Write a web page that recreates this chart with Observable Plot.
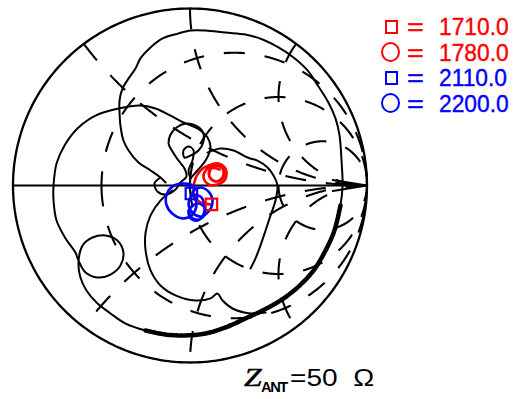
<!DOCTYPE html>
<html><head><meta charset="utf-8">
<script src="https://cdn.jsdelivr.net/npm/d3@7"></script>
<script src="https://cdn.jsdelivr.net/npm/@observablehq/plot@0.6"></script>
<style>
body{margin:0;background:#fff;}
#wrap{position:relative;width:516px;height:399px;overflow:hidden;background:#fff;}
#wrap svg{position:absolute;left:0;top:0;}
.row{position:absolute;left:0;width:516px;height:25px;font-family:"Liberation Sans",Arial,sans-serif;font-size:24px;line-height:24px;white-space:nowrap;-webkit-text-stroke:0.4px currentColor;}
.row .eq{position:absolute;left:407px;top:0;display:inline-block;transform:scaleX(1.2);transform-origin:left;}
.row .num{position:absolute;left:439px;top:0;display:inline-block;transform:scaleX(0.95);transform-origin:left;}
.row .sq{position:absolute;left:385px;top:5px;width:9px;height:10px;border:2px solid;}
.row .ci{position:absolute;left:381px;top:1px;width:15px;height:16px;border:2px solid;border-radius:50%;}
#cap{position:absolute;left:244px;top:365px;font-family:"Liberation Sans",Arial,sans-serif;font-size:23px;line-height:25px;white-space:nowrap;transform:scaleX(1.22);transform-origin:left top;}
#cap i{font-family:"Liberation Serif","Times New Roman",serif;font-size:26px;-webkit-text-stroke:0.5px #000;}
#cap sub{font-size:15px;font-weight:bold;vertical-align:-6px;letter-spacing:-1.5px;display:inline-block;transform:scaleX(0.8);transform-origin:left;margin-right:-3px;}
</style></head><body><div id="wrap"></div>
<script>
// Smith chart grid values
const rCircles = [1/3, 1, 3];
const xArcs = [0.5, 1, 2, -0.5, -1, -2];

// Black impedance trajectory (reflection coefficient u = Re Γ, v = Im Γ)
const blackOuter = [[-0.138,0.017],[-0.167,0.045],[-0.223,0.085],[-0.291,0.130],[-0.347,0.198],[-0.376,0.254],[-0.393,0.339],[-0.398,0.412],[-0.398,0.480],[-0.381,0.548],[-0.347,0.605],[-0.308,0.661],[-0.280,0.718],[-0.223,0.780],[-0.155,0.831],[-0.065,0.859],[0.003,0.876],[0.088,0.876],[0.201,0.864],[0.314,0.853],[0.410,0.825],[0.500,0.780],[0.585,0.723],[0.664,0.650],[0.726,0.559],[0.782,0.469],[0.822,0.379],[0.845,0.282],[0.856,0.141],[0.862,0],[0.850,-0.113],[0.816,-0.254],[0.766,-0.367],[0.698,-0.480],[0.613,-0.571],[0.511,-0.650],[0.410,-0.706],[0.314,-0.751],[0.201,-0.802],[0.088,-0.836],[-0.025,-0.847],[-0.138,-0.842],[-0.251,-0.819],[-0.364,-0.780],[-0.449,-0.723],[-0.528,-0.661],[-0.585,-0.593],[-0.619,-0.520],[-0.630,-0.435],[-0.607,-0.339],[-0.551,-0.294],[-0.477,-0.282],[-0.410,-0.311],[-0.376,-0.379],[-0.393,-0.452],[-0.449,-0.503],[-0.523,-0.520],[-0.590,-0.492],[-0.630,-0.424],[-0.647,-0.379],[-0.703,-0.299],[-0.754,-0.198],[-0.771,-0.085],[-0.771,0],[-0.754,0.124],[-0.709,0.226],[-0.636,0.322],[-0.534,0.395],[-0.404,0.435],[-0.280,0.452],[-0.195,0.435],[-0.110,0.395],[-0.037,0.356],[0.042,0.322],[0.099,0.271],[0.116,0.215],[0.088,0.141],[0.042,0.085],[0.003,0.040]];
const blackInner = [[-0.099,-0.028],[-0.167,-0.085],[-0.223,-0.169],[-0.251,-0.266],[-0.251,-0.367],[-0.223,-0.480],[-0.167,-0.565],[-0.082,-0.621],[0.031,-0.650],[0.116,-0.638],[0.155,-0.610],[0.184,-0.650],[0.240,-0.695],[0.342,-0.723],[0.427,-0.718]];
const blackWavy = [[0.099,0.186],[0.172,0.209],[0.246,0.198],[0.325,0.158],[0.381,0.141],[0.438,0.102],[0.472,0.056],[0.494,0],[0.483,-0.085],[0.455,-0.169],[0.427,-0.254],[0.398,-0.339],[0.370,-0.412],[0.342,-0.469]];
const blackLoops = [[-0.167,0.045],[-0.201,0.011],[-0.184,-0.034],[-0.133,-0.051],[-0.082,-0.023],[-0.054,0.017],[-0.020,0.051],[-0.031,0.096],[-0.065,0.141],[-0.099,0.192],[-0.121,0.237],[-0.110,0.288],[-0.076,0.328],[-0.025,0.350],[0.031,0.339],[0.071,0.305],[0.076,0.249],[0.048,0.198],[0.003,0.169],[-0.031,0.158],[-0.037,0.198],[-0.008,0.220],[0.020,0.198],[0.014,0.141],[-0.008,0.085],[0.003,0.040]];

// Red trace (1710–1780) and blue trace (2110–2200)
const redTrace = [[0.121,-0.107],[0.059,-0.096],[0.025,-0.062],[0.020,-0.017],[0.031,0.040],[0.059,0.085],[0.105,0.113],[0.161,0.124],[0.203,0.090],[0.198,0.034],[0.155,0.006],[0.105,0.006],[0.076,0.045],[0.093,0.090],[0.138,0.113],[0.184,0.096],[0.184,0.045],[0.144,0.023],[0.110,0.051],[0.121,0.096],[0.167,0.090]];
const blueTrace = [[0.020,0],[-0.025,0.011],[-0.090,0],[-0.130,-0.045],[-0.133,-0.110],[-0.099,-0.160],[-0.042,-0.186],[0.014,-0.164],[0.037,-0.102],[0.014,-0.040],[0.059,-0.011],[0.110,-0.040],[0.127,-0.096],[0.105,-0.147],[0.059,-0.175],[0.014,-0.153],[-0.008,-0.102],[0.014,-0.056],[0.059,-0.062],[0.082,-0.113],[0.076,-0.164],[0.042,-0.198],[0.003,-0.186],[-0.008,-0.141],[0.020,-0.113]];

// Markers
const markerU = [0.121, 0.150, 0.008, 0.042];
const markerV = [-0.107, 0.068, -0.045, -0.147];
const markerSymbol = ["square", "circle", "square", "circle"];
const markerColor = ["#ff0000", "#ff0000", "#0000ff", "#0000ff"];

// Legend
const legendLabels = ["1710.0", "1780.0", "2110.0", "2200.0"];

// ---- grid geometry ----
const N = 500;
const rows = [];
rCircles.forEach((r, k) => {
  const c = r / (1 + r), R = 1 / (1 + r);
  for (let i = 0; i <= N; i++) {
    const t = Math.PI + 2 * Math.PI * i / N;
    rows.push({id: "r" + k, u: c + R * Math.cos(t), v: R * Math.sin(t)});
  }
});
xArcs.forEach((x, k) => {
  for (let i = 0; i <= N; i++) {
    let s = (Math.PI / 2 - 1e-3) * i / N;
    if (x < 0) s = (Math.PI / 2 - 1e-3) - s;
    const r = Math.tan(s);
    const den = (r + 1) ** 2 + x * x;
    rows.push({id: "x" + k, u: (r * r + x * x - 1) / den, v: 2 * x / den});
  }
});
const boundary = d3.range(0, 361, 1).map(a => ({u: Math.cos(a * Math.PI / 180), v: Math.sin(a * Math.PI / 180)}));
const axisRow = [{x1: -1, y1: 0, x2: 1, y2: 0}];

const toRows = a => a.map(([u, v]) => ({u, v}));
const markers = markerU.map((u, i) => ({u, v: markerV[i], s: markerSymbol[i], c: markerColor[i]}));

const chart = Plot.plot({
  width: 516, height: 399, margin: 0,
  x: {domain: [-1, 1], range: [12.5, 366.5], axis: null},
  y: {domain: [-1, 1], range: [362, 8], axis: null},
  style: {background: "transparent"},
  marks: [
    Plot.line(rows, {x: "u", y: "v", z: "id", stroke: "#000", strokeWidth: 2.1, strokeDasharray: "21,20", strokeLinecap: "butt"}),
    Plot.line(boundary, {x: "u", y: "v", stroke: "#000", strokeWidth: 2.3}),
    Plot.arrow(axisRow, {x1: "x1", y1: "y1", x2: "x2", y2: "y2", stroke: "#000", strokeWidth: 2, headAngle: 18, headLength: 26}),
    Plot.line(toRows(blackOuter), {x: "u", y: "v", stroke: "#000", strokeWidth: 2, curve: "catmull-rom"}),
    Plot.line(toRows(blackOuter.slice(30, 43)), {x: "u", y: "v", stroke: "#000", strokeWidth: 4.5, strokeDasharray: "3,1.5", curve: "catmull-rom"}),
    Plot.line(toRows(blackInner), {x: "u", y: "v", stroke: "#000", strokeWidth: 2, curve: "catmull-rom"}),
    Plot.line(toRows(blackWavy), {x: "u", y: "v", stroke: "#000", strokeWidth: 2, curve: "catmull-rom"}),
    Plot.line(toRows(blackLoops), {x: "u", y: "v", stroke: "#000", strokeWidth: 2, curve: "catmull-rom"}),
    Plot.line(toRows(redTrace), {x: "u", y: "v", stroke: "#ff0000", strokeWidth: 2.6, curve: "catmull-rom"}),
    Plot.line(toRows(blueTrace), {x: "u", y: "v", stroke: "#0000ff", strokeWidth: 2.6, curve: "catmull-rom"}),
    Plot.dot(markers.filter(d => d.s === "square"), {x: "u", y: "v", symbol: "square", stroke: d => d.c, fill: "none", strokeWidth: 2.2, r: 6.5}),
    Plot.dot(markers.filter(d => d.s === "circle"), {x: "u", y: "v", symbol: "circle", stroke: d => d.c, fill: "none", strokeWidth: 2.2, r: 8})
  ]
});
const wrap = document.getElementById("wrap");
wrap.appendChild(chart);

legendLabels.forEach((lab, i) => {
  const row = document.createElement("div");
  row.className = "row";
  row.style.top = (15 + 25.6 * i) + "px";
  row.style.color = markerColor[i];
  const m = document.createElement("span");
  m.className = markerSymbol[i] === "square" ? "sq" : "ci";
  m.style.borderColor = markerColor[i];
  const eq = document.createElement("span"); eq.className = "eq"; eq.textContent = "=";
  const num = document.createElement("span"); num.className = "num"; num.textContent = lab;
  row.append(m, eq, num);
  wrap.appendChild(row);
});
const cap = document.createElement("div");
cap.id = "cap";
cap.innerHTML = "<i>Z</i><sub>ANT</sub>=50&nbsp;&nbsp;Ω";
wrap.appendChild(cap);
</script></body></html>
